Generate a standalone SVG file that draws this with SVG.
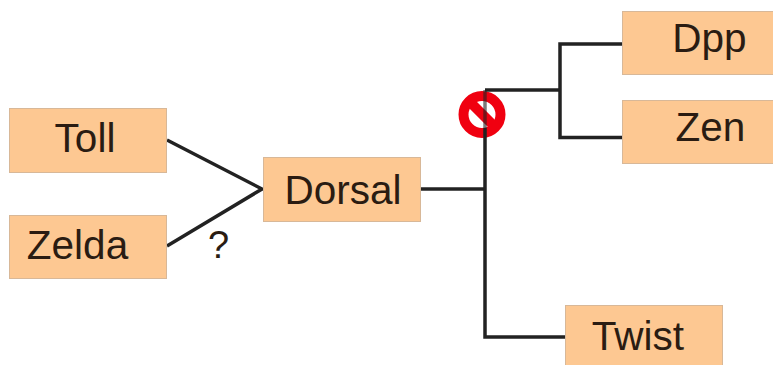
<svg xmlns="http://www.w3.org/2000/svg" width="773" height="365" viewBox="0 0 773 365">
<style>
.n{fill:#fdc892;stroke:#d8b898;stroke-width:1}
.t{font-family:"Liberation Sans",Arial,sans-serif;font-size:40.500px;fill:#2a1c12;text-anchor:middle}
.c{fill:none;stroke:#222;stroke-width:3.500}
</style>
<rect width="773" height="365" fill="#fff"/>
<g id="inhibit"><circle cx="482" cy="114.500" r="18.500" fill="#fff" stroke="#f00010" stroke-width="10"/><path d="M469 101L496 128" stroke="#f00010" stroke-width="10"/></g>
<g id="connectors">
<path class="c" d="M167 140L262 189L167 246"/>
<path class="c" d="M421 189H485"/>
<path class="c" d="M485 128V337H566"/>
<path class="c" d="M485 90V128" opacity="0.6"/>
<path class="c" d="M485 90H561"/>
<path class="c" d="M623 44H560V137.500H623"/>
</g>
<g id="toll"><rect class="n" x="9.500" y="108.500" width="157" height="64"/><text class="t" x="85" y="152">Toll</text></g>
<g id="zelda"><rect class="n" x="9.500" y="215.500" width="157" height="63"/><text class="t" x="77.500" y="259">Zelda</text></g>
<g id="dorsal"><rect class="n" x="263.500" y="157.500" width="157" height="64"/><text class="t" x="343" y="204">Dorsal</text></g>
<g id="dpp"><rect class="n" x="622.500" y="11.500" width="155" height="63"/><text class="t" x="709.500" y="52">Dpp</text></g>
<g id="zen"><rect class="n" x="622.500" y="100.500" width="155" height="63"/><text class="t" x="710.500" y="141">Zen</text></g>
<g id="twist"><rect class="n" x="565.500" y="305.500" width="157" height="64"/><text class="t" x="638" y="350">Twist</text></g>
<text x="218.500" y="258" style="font-family:'Liberation Sans',Arial,sans-serif;font-size:38px;fill:#2a1c12;text-anchor:middle">?</text>
</svg>
